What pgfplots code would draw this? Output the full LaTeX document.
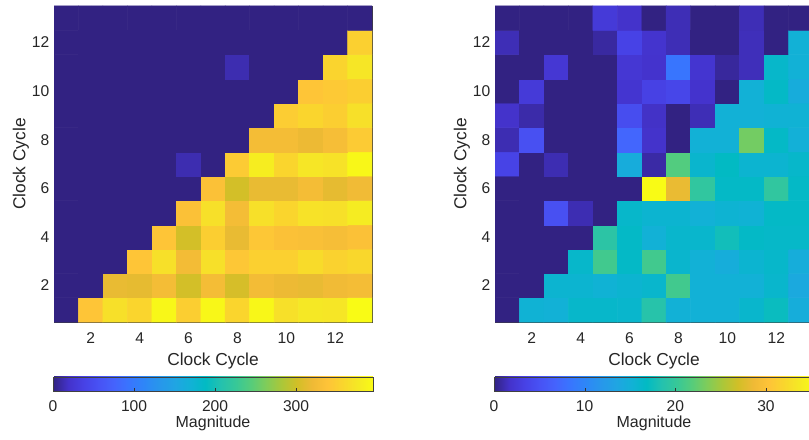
\documentclass[border=0pt]{standalone}
\usepackage{fontspec}
\setmainfont{Liberation Sans}
\usepackage{pgfplots}
\pgfplotsset{compat=1.18}

% parula (dark start), sampled every third entry of the 64-row table
\pgfplotsset{
  colormap={parula}{
    rgb=(0.1950,0.1350,0.5100) rgb=(0.2647,0.1978,0.7952) rgb=(0.2783,0.2559,0.8991)
    rgb=(0.2810,0.3228,0.9579) rgb=(0.2699,0.3892,0.9906) rgb=(0.2206,0.4603,0.9973)
    rgb=(0.1786,0.5289,0.9682) rgb=(0.1540,0.5902,0.9218) rgb=(0.1248,0.6459,0.8883)
    rgb=(0.0689,0.6948,0.8394) rgb=(0.0067,0.7312,0.7660) rgb=(0.1408,0.7584,0.6842)
    rgb=(0.2161,0.7843,0.5923) rgb=(0.3406,0.8008,0.4789) rgb=(0.5044,0.7993,0.3480)
    rgb=(0.6720,0.7793,0.2227) rgb=(0.8203,0.7498,0.1535) rgb=(0.9393,0.7288,0.2100)
    rgb=(0.9970,0.7659,0.2199) rgb=(0.9786,0.8386,0.1766) rgb=(0.9597,0.9135,0.1423)
    rgb=(0.9769,0.9839,0.0805)
  },
  cbar/.style={
    at={(parent axis.south west)}, anchor=north west,
    xshift=-0.75pt, yshift=-32.7pt,
    width=240pt, height=10.5pt,
    tick align=inside, major tick length=2.5pt,
    xtick pos=bottom, ytick=\empty,
    axis line style={black!75}, tick style={black!80},
    xticklabel style={font=\fontsize{11.7}{13}\selectfont, text=black!85, anchor=base, yshift=-15.5pt},
    /pgf/number format/assume math mode=true,
    xlabel={Magnitude},
    every axis x label/.style={at={(axis description cs:0.5,0)}, anchor=base,
      yshift=-27.75pt, font=\fontsize{12}{14}\selectfont, text=black!85},
  },
  heat/.style={
    scale only axis, width=238.5pt, height=237pt,
    xmin=0.5, xmax=13.5, ymin=0.5, ymax=13.5, enlargelimits=false,
    xtick={2,4,...,12}, ytick={2,4,...,12},
    tick align=inside, major tick length=3pt,
    axis line style={black!75}, tick style={black!80},
    xticklabel style={font=\fontsize{11.7}{13}\selectfont, text=black!85, anchor=base, yshift=-16pt},
    yticklabel style={font=\fontsize{11.7}{13}\selectfont, text=black!85},
    /pgf/number format/assume math mode=true,
    xlabel={Clock Cycle}, ylabel={Clock Cycle},
    every axis x label/.style={at={(axis description cs:0.5,-0.139)}, anchor=base,
      font=\fontsize{13}{15}\selectfont, text=black!85},
    every axis y label/.style={at={(axis description cs:-0.104,0.5)}, anchor=center, rotate=90,
      font=\fontsize{13}{15}\selectfont, text=black!85},
    colormap name=parula, colorbar horizontal, point meta min=0,
  },
}

\begin{document}
\begin{tikzpicture}
\begin{axis}[heat, at={(40.5pt,87.75pt)}, anchor=south west,
  point meta max=395,
  colorbar style={cbar, xtick={0,100,200,300}}]
\addplot[matrix plot*, mesh/cols=13, point meta=explicit] coordinates {
(1,1)[0] (2,1)[340] (3,1)[367] (4,1)[357] (5,1)[391] (6,1)[350] (7,1)[391] (8,1)[357] (9,1)[391] (10,1)[367] (11,1)[375] (12,1)[373] (13,1)[395]
(1,2)[0] (2,2)[0] (3,2)[316] (4,2)[314] (5,2)[326] (6,2)[302] (7,2)[326] (8,2)[304] (9,2)[324] (10,2)[318] (11,2)[316] (12,2)[322] (13,2)[326]
(1,3)[0] (2,3)[0] (3,3)[0] (4,3)[340] (5,3)[367] (6,3)[324] (7,3)[367] (8,3)[342] (9,3)[352] (10,3)[352] (11,3)[363] (12,3)[354] (13,3)[359]
(1,4)[0] (2,4)[0] (3,4)[0] (4,4)[0] (5,4)[340] (6,4)[302] (7,4)[350] (8,4)[316] (9,4)[342] (10,4)[334] (11,4)[332] (12,4)[328] (13,4)[334]
(1,5)[0] (2,5)[0] (3,5)[0] (4,5)[0] (5,5)[0] (6,5)[334] (7,5)[367] (8,5)[326] (9,5)[367] (10,5)[357] (11,5)[369] (12,5)[367] (13,5)[379]
(1,6)[0] (2,6)[0] (3,6)[0] (4,6)[0] (5,6)[0] (6,6)[0] (7,6)[334] (8,6)[302] (9,6)[316] (10,6)[316] (11,6)[326] (12,6)[314] (13,6)[322]
(1,7)[0] (2,7)[0] (3,7)[0] (4,7)[0] (5,7)[0] (6,7)[12] (7,7)[0] (8,7)[346] (9,7)[381] (10,7)[357] (11,7)[373] (12,7)[369] (13,7)[391]
(1,8)[0] (2,8)[0] (3,8)[0] (4,8)[0] (5,8)[0] (6,8)[0] (7,8)[0] (8,8)[0] (9,8)[326] (10,8)[326] (11,8)[318] (12,8)[328] (13,8)[346]
(1,9)[0] (2,9)[0] (3,9)[0] (4,9)[0] (5,9)[0] (6,9)[0] (7,9)[0] (8,9)[0] (9,9)[0] (10,9)[348] (11,9)[357] (12,9)[350] (13,9)[367]
(1,10)[0] (2,10)[0] (3,10)[0] (4,10)[0] (5,10)[0] (6,10)[0] (7,10)[0] (8,10)[0] (9,10)[0] (10,10)[0] (11,10)[340] (12,10)[344] (13,10)[350]
(1,11)[0] (2,11)[0] (3,11)[0] (4,11)[0] (5,11)[0] (6,11)[0] (7,11)[0] (8,11)[12] (9,11)[0] (10,11)[0] (11,11)[0] (12,11)[356] (13,11)[373]
(1,12)[0] (2,12)[0] (3,12)[0] (4,12)[0] (5,12)[0] (6,12)[0] (7,12)[0] (8,12)[0] (9,12)[0] (10,12)[0] (11,12)[0] (12,12)[0] (13,12)[352]
(1,13)[0] (2,13)[0] (3,13)[0] (4,13)[0] (5,13)[0] (6,13)[0] (7,13)[0] (8,13)[0] (9,13)[0] (10,13)[0] (11,13)[0] (12,13)[0] (13,13)[0]
};
\end{axis}

\begin{axis}[heat, at={(371.25pt,87.75pt)}, anchor=south west,
  point meta max=35.3,
  colorbar style={cbar, xtick={0,10,20,30}}]
\addplot[matrix plot*, mesh/cols=13, point meta=explicit] coordinates {
(1,1)[0] (2,1)[15.3] (3,1)[15.1] (4,1)[16.2] (5,1)[16.2] (6,1)[16.0] (7,1)[18.8] (8,1)[15.1] (9,1)[15.1] (10,1)[15.1] (11,1)[16.0] (12,1)[17.2] (13,1)[14.6]
(1,2)[0] (2,2)[0] (3,2)[15.7] (4,2)[15.7] (5,2)[15.3] (6,2)[15.7] (7,2)[16.0] (8,2)[20.7] (9,2)[15.1] (10,2)[15.1] (11,2)[15.1] (12,2)[16.0] (13,2)[14.0]
(1,3)[0] (2,3)[0] (3,3)[0] (4,3)[16.2] (5,3)[20.7] (6,3)[16.6] (7,3)[20.7] (8,3)[15.9] (9,3)[15.1] (10,3)[14.6] (11,3)[15.7] (12,3)[16.2] (13,3)[14.6]
(1,4)[0] (2,4)[0] (3,4)[0] (4,4)[0] (5,4)[19.2] (6,4)[16.6] (7,4)[15.1] (8,4)[16.0] (9,4)[16.0] (10,4)[17.6] (11,4)[16.6] (12,4)[16.4] (13,4)[16.4]
(1,5)[0] (2,5)[0] (3,5)[4.8] (4,5)[1.1] (5,5)[0] (6,5)[16.2] (7,5)[15.7] (8,5)[15.7] (9,5)[15.1] (10,5)[15.5] (11,5)[15.3] (12,5)[16.6] (13,5)[16.6]
(1,6)[0] (2,6)[0] (3,6)[0] (4,6)[0] (5,6)[0] (6,6)[0] (7,6)[35.3] (8,6)[28.3] (9,6)[19.6] (10,6)[16.6] (11,6)[16.6] (12,6)[19.6] (13,6)[16.6]
(1,7)[3.5] (2,7)[0] (3,7)[1.1] (4,7)[0] (5,7)[0] (6,7)[14.5] (7,7)[0.8] (8,7)[21.6] (9,7)[15.9] (10,7)[16.8] (11,7)[15.7] (12,7)[15.7] (13,7)[16.2]
(1,8)[1.1] (2,8)[4.8] (3,8)[0] (4,8)[0] (5,8)[0] (6,8)[7.0] (7,8)[1.7] (8,8)[0] (9,8)[15.1] (10,8)[15.1] (11,8)[23.0] (12,8)[16.6] (13,8)[15.0]
(1,9)[1.7] (2,9)[0.9] (3,9)[0] (4,9)[0] (5,9)[0] (6,9)[4.5] (7,9)[1.6] (8,9)[0] (9,9)[1.2] (10,9)[15.1] (11,9)[15.1] (12,9)[15.3] (13,9)[15.3]
(1,10)[0] (2,10)[2.5] (3,10)[0] (4,10)[0] (5,10)[0] (6,10)[2.0] (7,10)[3.3] (8,10)[3.8] (9,10)[1.8] (10,10)[0] (11,10)[15.1] (12,10)[16.6] (13,10)[14.5]
(1,11)[0] (2,11)[0] (3,11)[2.2] (4,11)[0] (5,11)[0] (6,11)[2.2] (7,11)[1.8] (8,11)[8.4] (9,11)[2.0] (10,11)[0.6] (11,11)[1.3] (12,11)[16.2] (13,11)[15.1]
(1,12)[1.2] (2,12)[0] (3,12)[0] (4,12)[0] (5,12)[0.7] (6,12)[3.4] (7,12)[1.9] (8,12)[1.2] (9,12)[0] (10,12)[0] (11,12)[1.3] (12,12)[0] (13,12)[15.1]
(1,13)[0] (2,13)[0] (3,13)[0] (4,13)[0] (5,13)[2.5] (6,13)[1.7] (7,13)[0] (8,13)[1.2] (9,13)[0] (10,13)[0] (11,13)[1.2] (12,13)[0] (13,13)[0]
};
\end{axis}
\pgfresetboundingbox
\useasboundingbox (0,0) rectangle (606.75pt,329.25pt);
\end{tikzpicture}
\end{document}
